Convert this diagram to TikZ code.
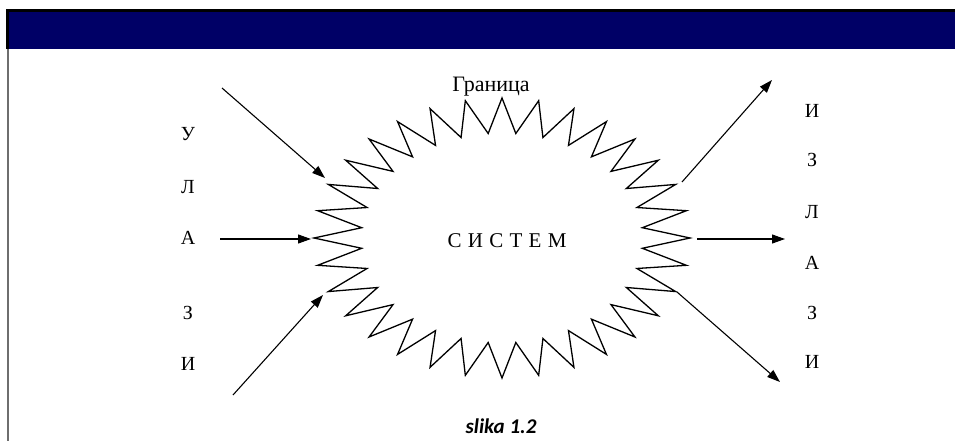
\documentclass[tikz,border=0pt]{standalone}
\usepackage{fontspec}
\setmainfont{Liberation Serif}
\newfontfamily\captionfont{Carlito}
\usetikzlibrary{arrows.meta}

\definecolor{bannerblue}{RGB}{0,0,102}
\definecolor{rulegray}{RGB}{110,110,110}

\tikzset{
	flow/.style={line width=1.1pt, -{Triangle[length=13pt,width=9pt]}},
	boundary/.style={line width=1.3pt, line join=miter},
	letter/.style={font=\fontsize{20}{22}\selectfont, inner sep=0pt},
}

\begin{document}
\begin{tikzpicture}[x=1pt, y=-1pt]
	\useasboundingbox (0, 0) rectangle (955, 441);

	% banner and left rule
	\fill[bannerblue] (6, 9) rectangle (955, 49);
	\draw[black, line width=3pt] (7, 49) -- (7, 10.5) -- (955, 10.5);
	\draw[rulegray, line width=2pt] (8, 49) -- (8, 441);

	% the system boundary
	\coordinate (sys) at (502, 238);
	\draw[boundary] (690, 238)
		\foreach \k [evaluate=\k as \r using {1-0.25*mod(\k,2)},
		             evaluate=\k as \a using {\k*5.625}] in {1,...,63} {
			-- ({502+188*\r*cos(\a)}, {238-140*\r*sin(\a)})
		} -- cycle;

	\node[font=\fontsize{22}{24}\selectfont, inner sep=0pt, anchor=base] (granica) at (491, 92) {Граница};
	\node[font=\fontsize{21}{24}\selectfont\addfontfeature{LetterSpace=30}, inner sep=0pt, anchor=base] (sistem) at (507, 247) {СИСТЕМ};

	% inputs
	\coordinate (inA) at (222, 88);
	\coordinate (inAend) at (325, 178);
	\coordinate (inB) at (220, 239);
	\coordinate (inBend) at (311, 239);
	\coordinate (inC) at (233, 395);
	\coordinate (inCend) at (323, 295);
	\draw[flow] (inA) -- (inAend);
	\draw[flow] (inB) -- (inBend);
	\draw[flow] (inC) -- (inCend);

	% outputs
	\coordinate (outA) at (682, 182);
	\coordinate (outAend) at (772, 80);
	\coordinate (outB) at (697, 239);
	\coordinate (outBend) at (785, 239);
	\coordinate (outC) at (677, 292);
	\coordinate (outCend) at (780, 382);
	\draw[flow] (outA) -- (outAend);
	\draw[flow] (outB) -- (outBend);
	\draw[flow] (outC) -- (outCend);

	\node[letter] (ul1) at (188, 134) {У};
	\node[letter] (ul2) at (188, 187) {Л};
	\node[letter] (ul3) at (188, 238) {А};
	\node[letter] (ul4) at (188, 313) {З};
	\node[letter] (ul5) at (188, 364) {И};

	\node[letter] (iz1) at (812, 111) {И};
	\node[letter] (iz2) at (812, 160) {З};
	\node[letter] (iz3) at (812, 212) {Л};
	\node[letter] (iz4) at (812, 263) {А};
	\node[letter] (iz5) at (812, 313) {З};
	\node[letter] (iz6) at (812, 362) {И};

	\node[font=\captionfont\bfseries\itshape\fontsize{21}{23}\selectfont, inner sep=0pt, anchor=base] (slika) at (501, 433) {slika 1.2};

\end{tikzpicture}
\end{document}
